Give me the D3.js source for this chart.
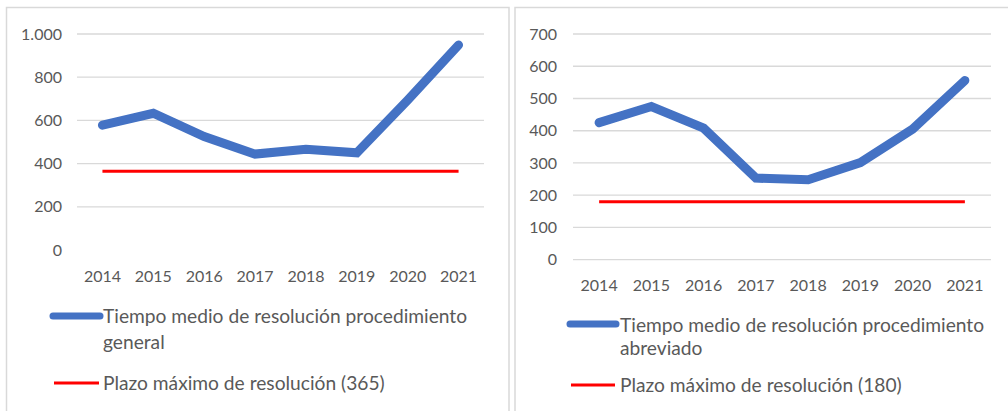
<!DOCTYPE html>
<html>
<head>
<meta charset="utf-8">
<script src="https://cdn.jsdelivr.net/npm/d3@7/dist/d3.min.js"></script>
<style>
  html, body { margin: 0; padding: 0; background: #fff; }
  svg { display: block; font-family: Lato, "Open Sans", sans-serif; }
</style>
</head>
<body>
<svg id="chart" width="1008" height="411"></svg>
<script>
// Years shown on both panels
const years = ["2014", "2015", "2016", "2017", "2018", "2019", "2020", "2021"];

// Average resolution time, general procedure (days)
const generalTimes = [578, 633, 525, 444, 466, 450, 694, 949];
const generalLimit = 365;
const generalTicks = [0, 200, 400, 600, 800, 1000];

// Average resolution time, abbreviated procedure (days)
const abbreviatedTimes = [425, 475, 408, 253, 248, 301, 405, 556];
const abbreviatedLimit = 180;
const abbreviatedTicks = [0, 100, 200, 300, 400, 500, 600, 700];

const legendGeneral = ["Tiempo medio de resolución procedimiento", "general"];
const legendAbbreviated = ["Tiempo medio de resolución procedimiento", "abreviado"];
const legendLimitGeneral = "Plazo máximo de resolución (365)";
const legendLimitAbbreviated = "Plazo máximo de resolución (180)";

const BLUE = "#4472C4";
const RED = "#FF0000";
const GRID = "#d9d9d9";
const TEXT = "#595959";

const svg = d3.select("#chart");
const fmt = d3.formatLocale({ decimal: ",", thousands: ".", grouping: [3], currency: ["", ""] }).format(",");

function drawPanel(opt) {
  const g = svg.append("g");

  // panel frame (left, top, right edges)
  const frame = d3.path();
  frame.moveTo(opt.frame.x0, 411);
  frame.lineTo(opt.frame.x0, opt.frame.y0);
  frame.lineTo(opt.frame.x1, opt.frame.y0);
  if (opt.frame.x1 < 1008) frame.lineTo(opt.frame.x1, 411);
  g.append("path").attr("d", frame.toString())
    .attr("fill", "none").attr("stroke", GRID).attr("stroke-width", 1.5);

  const x = d3.scaleBand().domain(years).range([opt.plot.x0, opt.plot.x1]);
  const y = d3.scaleLinear().domain([0, opt.max]).range([opt.plot.yBottom, opt.plot.yTop]);

  // horizontal gridlines
  g.append("g").selectAll("line")
    .data(opt.ticks.filter(t => opt.zeroLine || t > 0))
    .join("line")
    .attr("x1", opt.plot.x0).attr("x2", opt.plot.x1)
    .attr("y1", d => y(d)).attr("y2", d => y(d))
    .attr("stroke", GRID).attr("stroke-width", 1.3);

  // y-axis labels
  const yAxis = d3.axisLeft(y).tickValues(opt.ticks).tickSize(0).tickPadding(opt.yPad).tickFormat(fmt);
  g.append("g").attr("transform", `translate(${opt.plot.x0},0)`).call(yAxis)
    .call(s => s.select(".domain").remove())
    .selectAll("text").attr("fill", TEXT).attr("font-size", 16).attr("font-family", "Lato, sans-serif");

  // x-axis labels
  const xAxis = d3.axisBottom(x).tickSize(0).tickPadding(opt.xPad);
  g.append("g").attr("transform", `translate(0,${opt.plot.yBottom})`).call(xAxis)
    .call(s => s.select(".domain").remove())
    .selectAll("text").attr("fill", TEXT).attr("font-size", 16).attr("font-family", "Lato, sans-serif");

  const cx = d => x(d) + x.bandwidth() / 2;

  // maximum-term reference line
  g.append("path")
    .datum(years)
    .attr("d", d3.line().x(cx).y(() => y(opt.limit)))
    .attr("fill", "none").attr("stroke", RED).attr("stroke-width", 3);

  // average resolution time series
  g.append("path")
    .datum(years.map((yr, i) => [yr, opt.values[i]]))
    .attr("d", d3.line().x(d => cx(d[0])).y(d => y(d[1])))
    .attr("fill", "none").attr("stroke", BLUE).attr("stroke-width", 9)
    .attr("stroke-linecap", "round").attr("stroke-linejoin", "miter");

  // legend
  const L = opt.legend;
  g.append("line").attr("x1", L.x0).attr("x2", L.x1).attr("y1", L.y1).attr("y2", L.y1)
    .attr("stroke", BLUE).attr("stroke-width", 7).attr("stroke-linecap", "round");
  const t1 = g.append("text").attr("x", L.tx).attr("y", L.base1)
    .attr("fill", TEXT).attr("font-size", L.fs);
  t1.append("tspan").attr("x", L.tx).text(opt.legendText[0]);
  t1.append("tspan").attr("x", L.tx).attr("y", L.base2).text(opt.legendText[1]);

  g.append("line").attr("x1", L.x0 + 1).attr("x2", L.x1 - 1).attr("y1", L.y2).attr("y2", L.y2)
    .attr("stroke", RED).attr("stroke-width", 3);
  g.append("text").attr("x", L.tx).attr("y", L.base3)
    .attr("fill", TEXT).attr("font-size", L.fs).text(opt.limitText);
}

drawPanel({
  frame: { x0: 6.5, y0: 7.5, x1: 509 },
  plot: { x0: 77, x1: 484, yTop: 34, yBottom: 250 },
  max: 1000, ticks: generalTicks, zeroLine: false,
  values: generalTimes, limit: generalLimit,
  yPad: 15, xPad: 21,
  legend: { x0: 53, x1: 100, y1: 316, y2: 383, tx: 103, base1: 323, base2: 349, base3: 390, fs: 19.2 },
  legendText: legendGeneral, limitText: legendLimitGeneral
});

drawPanel({
  frame: { x0: 515, y0: 7.5, x1: 1010 },
  plot: { x0: 573, x1: 991, yTop: 34, yBottom: 259.7 },
  max: 700, ticks: abbreviatedTicks, zeroLine: true,
  values: abbreviatedTimes, limit: abbreviatedLimit,
  yPad: 16, xPad: 20,
  legend: { x0: 570, x1: 616, y1: 324, y2: 385, tx: 620, base1: 332, base2: 355, base3: 392, fs: 19.2 },
  legendText: legendAbbreviated, limitText: legendLimitAbbreviated
});
</script>
</body>
</html>
